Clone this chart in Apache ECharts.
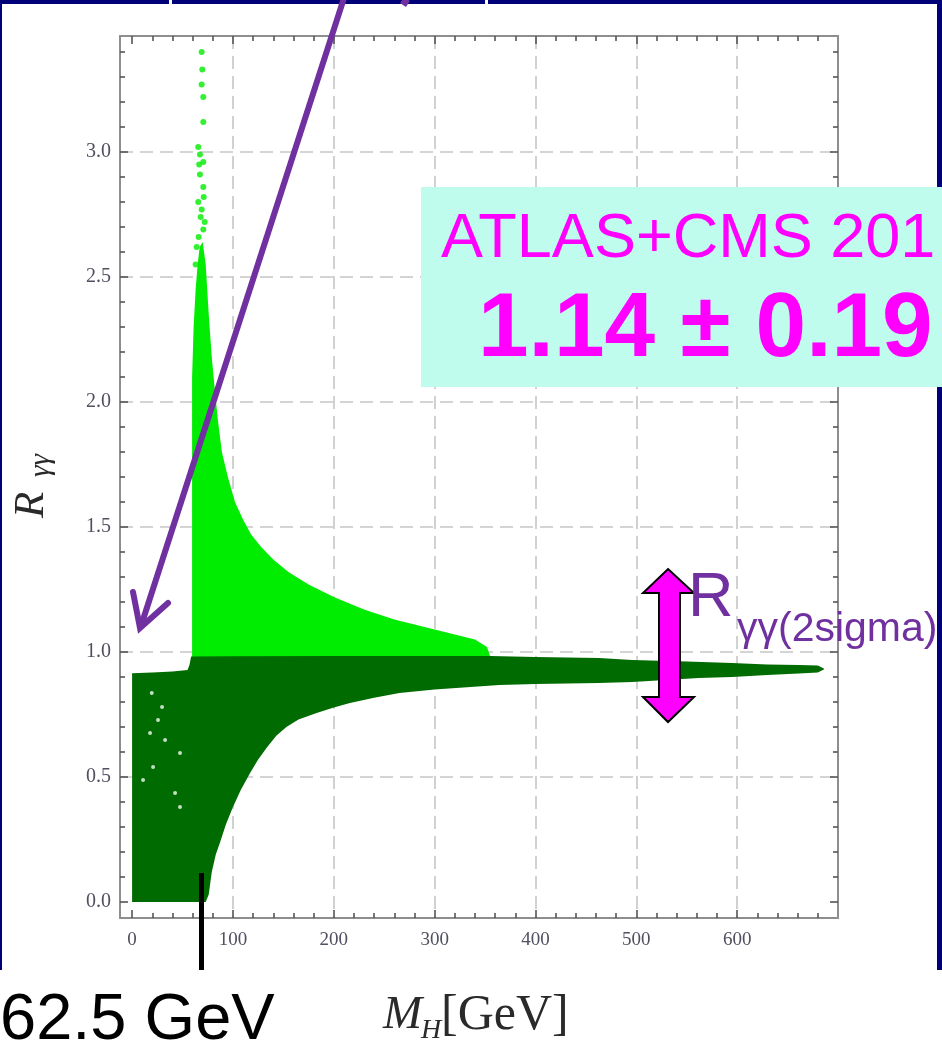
<!DOCTYPE html>
<html>
<head>
<meta charset="utf-8">
<script src="https://cdn.jsdelivr.net/npm/echarts@6/dist/echarts.min.js"></script>
<style>
  html, body { margin: 0; padding: 0; background: #ffffff; }
  #chart { width: 942px; height: 1052px; }
</style>
</head>
<body>
<div id="chart"></div>
<script>
// ---- axis ticks ----
const xMajorTicks = [0, 100, 200, 300, 400, 500, 600];
const yMajorTicks = [0, 0.5, 1.0, 1.5, 2.0, 2.5, 3.0];
const xGridLines = [100, 200, 300, 400, 500, 600];
const yGridLines = [0.5, 1.0, 1.5, 2.0, 2.5, 3.0];
const xMinorTicks = [];
for (let v = 20; v <= 680; v += 20) if (v % 100 !== 0) xMinorTicks.push(v);
const yMinorTicks = [];
for (let k = 1; k <= 34; k++) if (k % 5 !== 0) yMinorTicks.push(k / 10);

// ---- scan region with R_yy below ~1 (dark green): upper and lower edge, M_H in GeV ----
const darkUpperM = [0, 20, 40, 55, 57, 58.5, 100, 200, 300, 355, 400, 463, 496, 550, 595, 630, 661, 680, 686];
const darkUpperR = [0.915, 0.918, 0.922, 0.928, 0.95, 0.982, 0.983, 0.984, 0.984, 0.984, 0.98, 0.976, 0.968, 0.962, 0.956, 0.95, 0.948, 0.946, 0.934];
const darkLowerM = [0, 73, 76, 79, 83, 87, 93, 100, 108, 117, 125, 134, 143, 153, 165, 183, 200, 216, 240, 265, 300, 364, 400, 463, 496, 562, 595, 630, 661, 680, 686];
const darkLowerR = [0, 0, 0.03, 0.12, 0.19, 0.236, 0.31, 0.38, 0.45, 0.516, 0.57, 0.62, 0.665, 0.70, 0.73, 0.756, 0.778, 0.796, 0.817, 0.836, 0.85, 0.868, 0.872, 0.876, 0.88, 0.896, 0.90, 0.908, 0.914, 0.918, 0.93];

// ---- scan region with R_yy above ~1 (light green) ----
const lightUpperM = [59.5, 59.5, 61, 63, 65, 67, 70, 73, 76, 79, 82, 85, 89, 95, 102, 110, 118, 128, 140, 155, 175, 200, 230, 260, 290, 320, 340, 352, 356];
const lightUpperR = [0.97, 2.1, 2.3, 2.45, 2.55, 2.62, 2.64, 2.55, 2.35, 2.18, 2.05, 1.93, 1.8, 1.7, 1.6, 1.53, 1.47, 1.42, 1.37, 1.32, 1.27, 1.22, 1.17, 1.13, 1.10, 1.07, 1.05, 1.02, 0.97];
const lightLowerM = [59.5, 356];
const lightLowerR = [0.97, 0.97];

// isolated scan points above the dense spike near M_H ~ 70 GeV
const sparseM = [69, 69.6, 69, 70.6, 70.6, 65.6, 67.3, 70.6, 67.3, 70.6, 65.6, 68, 70.6, 66, 72, 64, 69, 63, 71, 66.5];
const sparseR = [3.40, 3.33, 3.27, 3.22, 3.12, 3.02, 2.99, 2.96, 2.91, 2.86, 2.80, 2.74, 2.69, 2.66, 2.72, 2.62, 2.77, 2.55, 2.82, 2.95];

// unfilled spots inside the dark region
const holeM = [19.5, 25.7, 32.7, 17.8, 10.9, 20.8, 47.5, 42.6, 47.5, 29.7];
const holeR = [0.836, 0.728, 0.648, 0.676, 0.488, 0.54, 0.596, 0.436, 0.38, 0.78];

const LIGHT = '#00ec00';
const DARK = '#006b00';
const X_MIN = -12, X_MAX = 700, Y_MIN = -0.064, Y_MAX = 3.464;
const SERIF = '"Liberation Serif", "DejaVu Serif", serif';
const SANS = '"Liberation Sans", Arial, sans-serif';

function regionRenderer(upM, upR, loM, loR, color) {
  return function (params, api) {
    const pts = [];
    for (let i = 0; i < upM.length; i++) pts.push(api.coord([upM[i], upR[i]]));
    for (let i = loM.length - 1; i >= 0; i--) pts.push(api.coord([loM[i], loR[i]]));
    return { type: 'polygon', shape: { points: pts }, style: { fill: color } };
  };
}

const frameLine = { show: true, onZero: false, lineStyle: { color: '#8e8e8e', width: 2 } };
const noLine = { show: false, onZero: false };
const tickStyle = { color: '#555555', width: 1.6 };
const labelStyle = { fontFamily: SERIF, color: '#505060' };

function xAx(extra) {
  return Object.assign({
    type: 'value', gridIndex: 0, min: X_MIN, max: X_MAX,
    axisLine: noLine, axisTick: { show: false },
    axisLabel: { show: false }, splitLine: { show: false }
  }, extra);
}
function yAx(extra) {
  return Object.assign({
    type: 'value', gridIndex: 0, min: Y_MIN, max: Y_MAX,
    axisLine: noLine, axisTick: { show: false },
    axisLabel: { show: false }, splitLine: { show: false }
  }, extra);
}

const xAxes = [
  xAx({ position: 'bottom', axisLine: frameLine,
        axisTick: { show: true, inside: true, length: 8, lineStyle: tickStyle, customValues: xMajorTicks },
        axisLabel: Object.assign({ show: true, margin: 13, fontSize: 19, customValues: xMajorTicks }, labelStyle) }),
  xAx({ position: 'bottom', axisTick: { show: true, inside: true, length: 5, lineStyle: tickStyle, customValues: xMinorTicks } }),
  xAx({ position: 'top', axisLine: frameLine,
        axisTick: { show: true, inside: true, length: 8, lineStyle: tickStyle, customValues: xMajorTicks } }),
  xAx({ position: 'top', axisTick: { show: true, inside: true, length: 5, lineStyle: tickStyle, customValues: xMinorTicks } }),
  xAx({ position: 'bottom', axisTick: { show: false, customValues: xGridLines },
        splitLine: { show: true, lineStyle: { color: '#c6c6c6', width: 1.6, type: [13, 7] } } })
];
const yAxes = [
  yAx({ position: 'left', axisLine: frameLine,
        axisTick: { show: true, inside: true, length: 8, lineStyle: tickStyle, customValues: yMajorTicks },
        axisLabel: Object.assign({ show: true, margin: 9, fontSize: 20, customValues: yMajorTicks,
          formatter: v => v.toFixed(1) }, labelStyle) }),
  yAx({ position: 'left', axisTick: { show: true, inside: true, length: 5, lineStyle: tickStyle, customValues: yMinorTicks } }),
  yAx({ position: 'right', axisLine: frameLine,
        axisTick: { show: true, inside: true, length: 8, lineStyle: tickStyle, customValues: yMajorTicks } }),
  yAx({ position: 'right', axisTick: { show: true, inside: true, length: 5, lineStyle: tickStyle, customValues: yMinorTicks } }),
  yAx({ position: 'left', axisTick: { show: false, customValues: yGridLines },
        splitLine: { show: true, lineStyle: { color: '#c6c6c6', width: 1.6, type: [13, 7] } } })
];

const NAVY = '#000078';
const PURPLE = '#7030a0';
const MAGENTA = '#ff00ff';

const graphics = [
  // slide frame
  { type: 'rect', z: 100, shape: { x: 0, y: 0, width: 169, height: 4 }, style: { fill: NAVY } },
  { type: 'rect', z: 100, shape: { x: 172, y: 0, width: 313, height: 4 }, style: { fill: NAVY } },
  { type: 'rect', z: 100, shape: { x: 488, y: 0, width: 454, height: 4 }, style: { fill: NAVY } },
  { type: 'rect', z: 100, shape: { x: 0, y: 0, width: 2, height: 970 }, style: { fill: NAVY } },
  { type: 'rect', z: 100, shape: { x: 937, y: 0, width: 5, height: 970 }, style: { fill: NAVY } },
  // measurement box
  { type: 'rect', z: 110, shape: { x: 421, y: 187, width: 521, height: 200 }, style: { fill: '#c0fcee' } },
  { type: 'text', z: 111, x: 441, y: 240,
    style: { text: 'ATLAS+CMS 201', font: '63px ' + SANS, fill: MAGENTA, align: 'left', verticalAlign: 'middle' } },
  { type: 'text', z: 111, x: 478, y: 331,
    style: { text: '1.14 \u00b1 0.19', font: 'bold 91px ' + SANS, fill: MAGENTA, align: 'left', verticalAlign: 'middle' } },
  // 2 sigma double arrow
  { type: 'polygon', z: 110,
    shape: { points: [[668, 569], [694, 593], [680, 593], [680, 697], [694, 697], [668, 722],
                      [643, 697], [659, 697], [659, 593], [643, 593]] },
    style: { fill: MAGENTA, stroke: '#000000', lineWidth: 2 } },
  { type: 'text', z: 111, x: 688, y: 599,
    style: { text: 'R', font: '63px ' + SANS, fill: PURPLE, align: 'left', verticalAlign: 'middle' } },
  { type: 'text', z: 111, x: 737, y: 630,
    style: { text: '\u03b3\u03b3(2sigma)', font: '41px ' + SANS, fill: PURPLE, align: 'left', verticalAlign: 'middle' } },
  // pointer arrow
  { type: 'line', z: 112, shape: { x1: 344, y1: -2, x2: 141, y2: 626 },
    style: { stroke: PURPLE, lineWidth: 6 } },
  { type: 'polyline', z: 112, shape: { points: [[133, 592], [140, 628], [168, 603]] },
    style: { stroke: PURPLE, lineWidth: 6, fill: null, lineJoin: 'miter', lineCap: 'round' } },
  { type: 'line', z: 112, shape: { x1: 407, y1: -1, x2: 403, y2: 5 },
    style: { stroke: PURPLE, lineWidth: 7 } },
  // 62.5 GeV marker
  { type: 'rect', z: 112, shape: { x: 199, y: 873, width: 5, height: 97 }, style: { fill: '#000000' } },
  { type: 'text', z: 112, x: 0, y: 1021,
    style: { text: '62.5 GeV', font: '65px ' + SANS, fill: '#000000', align: 'left', verticalAlign: 'middle' } },
  // axis titles
  { type: 'text', z: 105, x: 383, y: 1016,
    style: { text: 'M', font: 'italic 47px ' + SERIF, fill: '#2a2a2a', align: 'left', verticalAlign: 'middle' } },
  { type: 'text', z: 105, x: 421, y: 1031,
    style: { text: 'H', font: 'italic 28px ' + SERIF, fill: '#2a2a2a', align: 'left', verticalAlign: 'middle' } },
  { type: 'text', z: 105, x: 441, y: 1016,
    style: { text: '[GeV]', font: '50px ' + SERIF, fill: '#2a2a2a', align: 'left', verticalAlign: 'middle' } },
  { type: 'group', z: 105, x: 32, y: 480, rotation: Math.PI / 2,
    children: [
      { type: 'text', x: -38, y: 0,
        style: { text: 'R', font: 'italic 43px ' + SERIF, fill: '#2a2a2a', align: 'left', verticalAlign: 'middle' } },
      { type: 'text', x: 3, y: 9,
        style: { text: '\u03b3\u03b3', font: 'italic 29px ' + SERIF, fill: '#2a2a2a', align: 'left', verticalAlign: 'middle' } }
    ] }
];

const chart = echarts.init(document.getElementById('chart'), null, { renderer: 'canvas' });
chart.setOption({
  animation: false,
  backgroundColor: '#ffffff',
  grid: { left: 120, right: 104, top: 36, bottom: 134 },
  xAxis: xAxes,
  yAxis: yAxes,
  series: [
    { type: 'custom', name: 'R > 1', xAxisIndex: 0, yAxisIndex: 0, clip: true, z: 3,
      data: [[lightUpperM[0], lightUpperR[0]]],
      renderItem: regionRenderer(lightUpperM, lightUpperR, lightLowerM, lightLowerR, LIGHT) },
    { type: 'custom', name: 'R < 1', xAxisIndex: 0, yAxisIndex: 0, clip: true, z: 4,
      data: [[darkUpperM[0], darkUpperR[0]]],
      renderItem: regionRenderer(darkUpperM, darkUpperR, darkLowerM, darkLowerR, DARK) },
    { type: 'scatter', xAxisIndex: 0, yAxisIndex: 0, z: 5, symbolSize: 6,
      itemStyle: { color: LIGHT },
      data: sparseM.map((m, i) => [m, sparseR[i]]) },
    { type: 'scatter', xAxisIndex: 0, yAxisIndex: 0, z: 6, symbolSize: 4,
      itemStyle: { color: '#f2fbf2' },
      data: holeM.map((m, i) => [m, holeR[i]]) }
  ],
  graphic: graphics
});
</script>
</body>
</html>
